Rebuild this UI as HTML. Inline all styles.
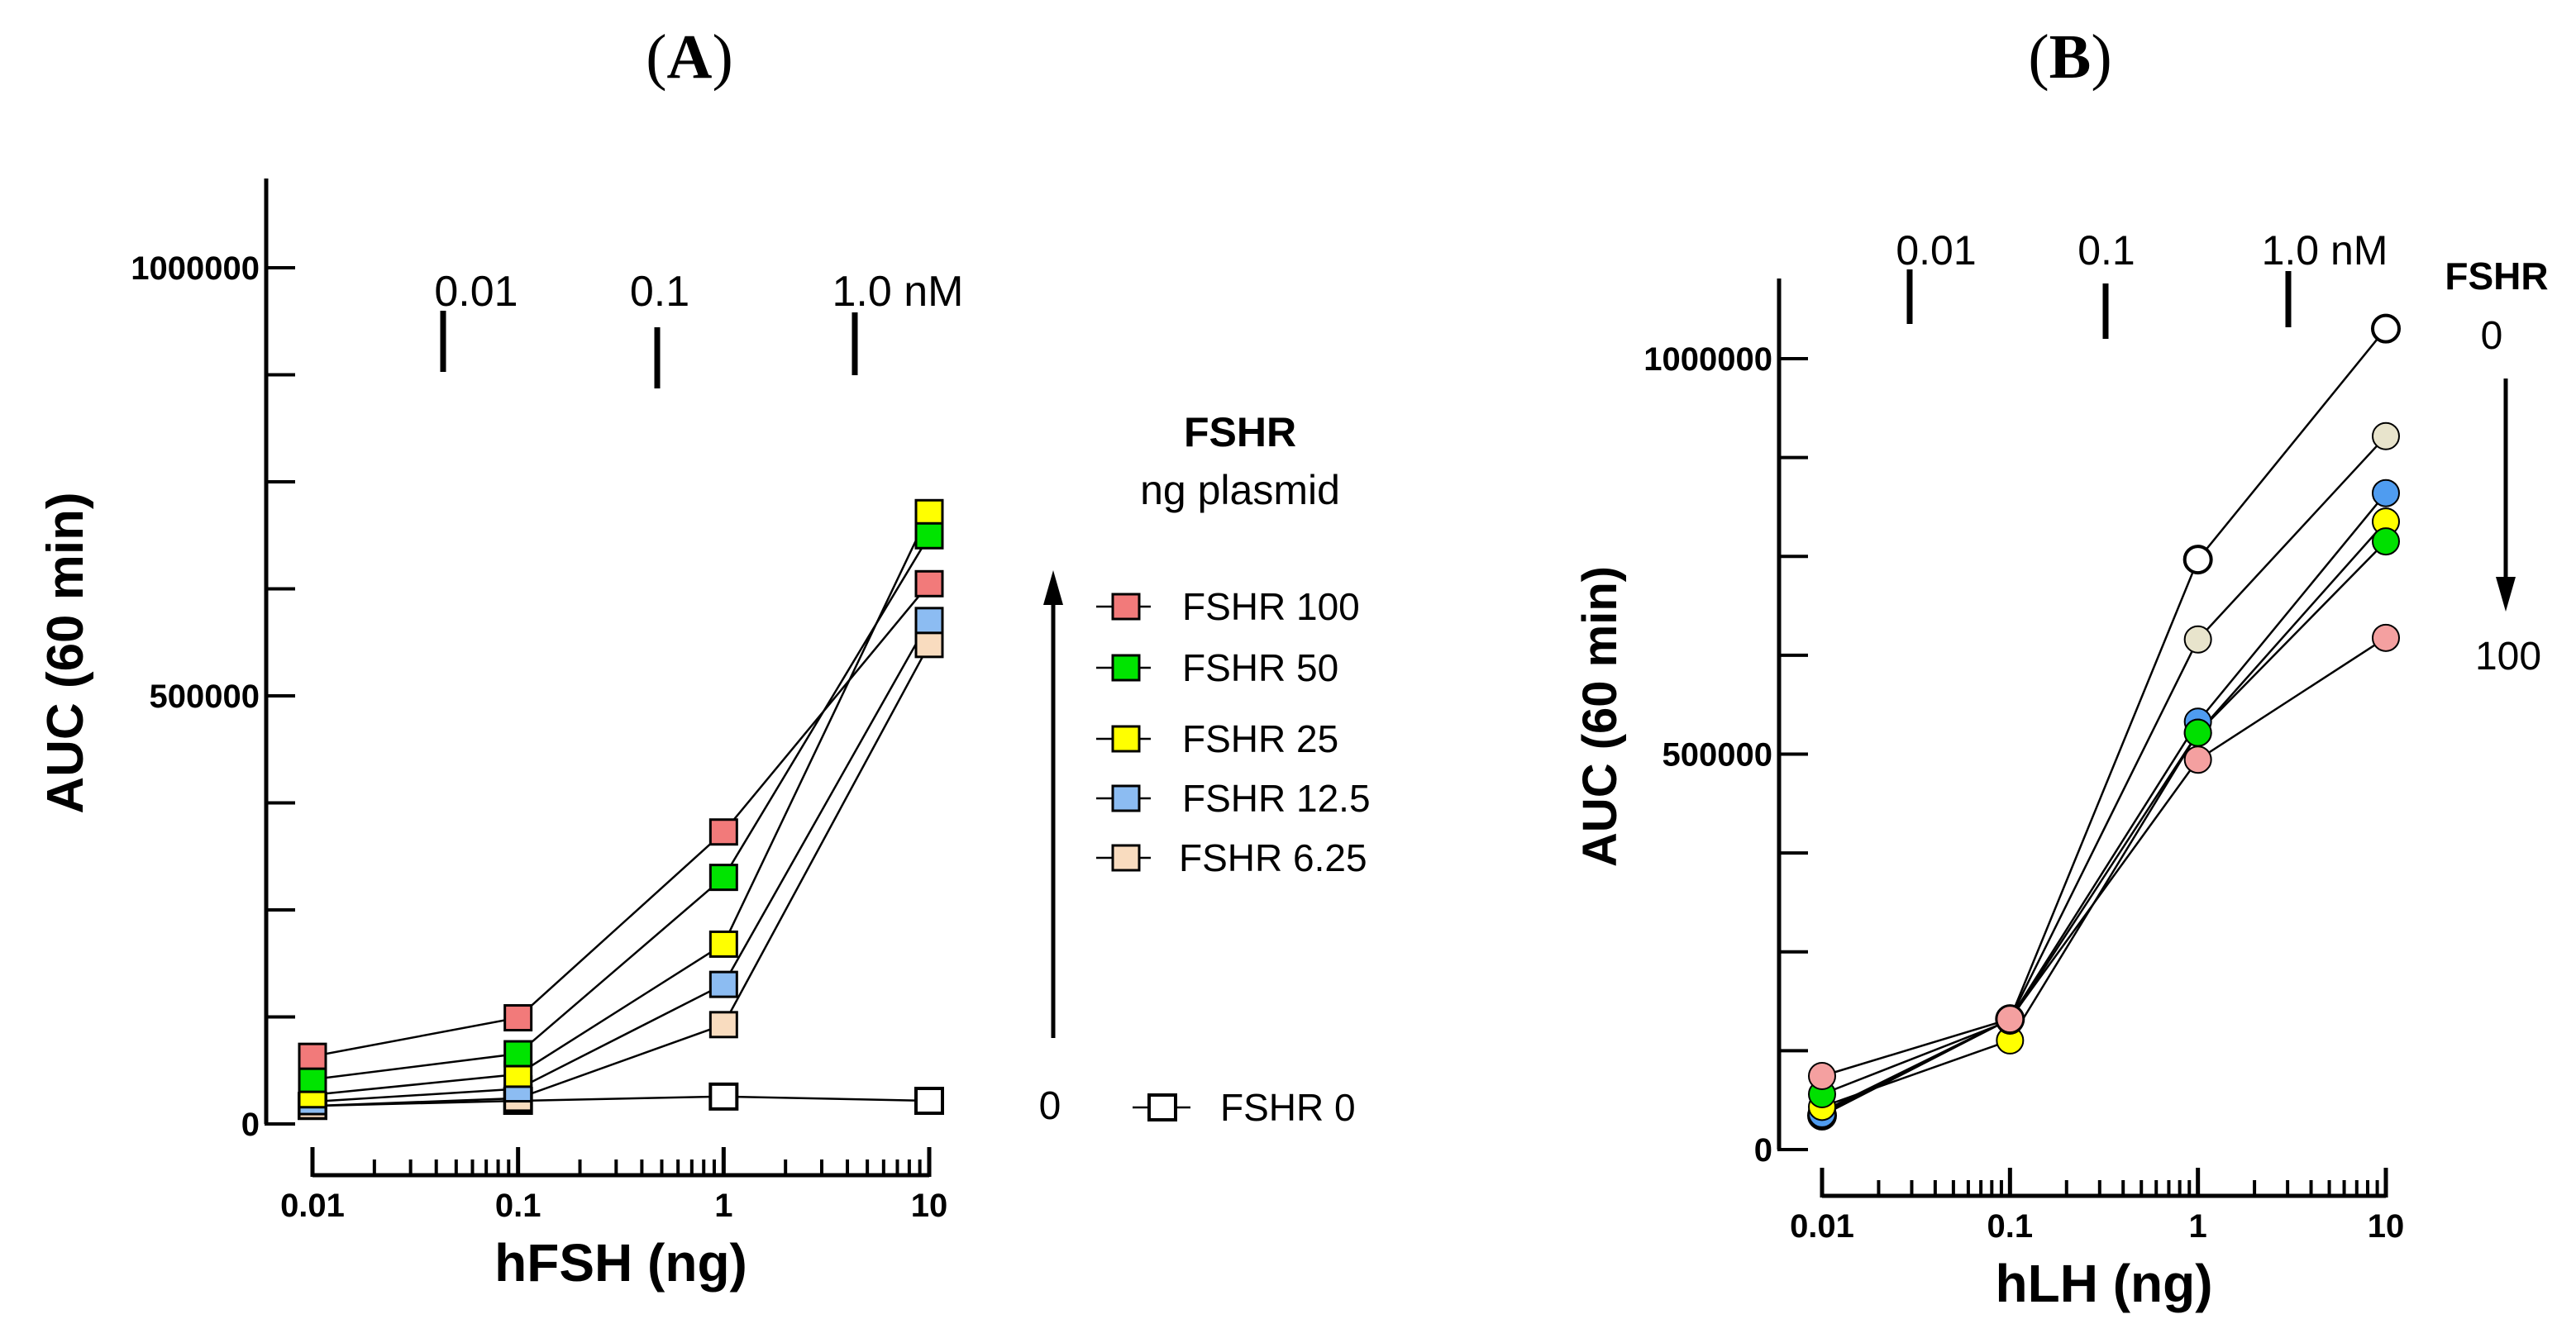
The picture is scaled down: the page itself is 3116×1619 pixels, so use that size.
<!DOCTYPE html>
<html><head><meta charset="utf-8"><style>
html,body{margin:0;padding:0;background:#fff}
svg{display:block}
text{font-family:"Liberation Sans",Arial,sans-serif}
</style></head><body>
<svg id="fig" width="3116" height="1619" viewBox="0 0 3116 1619" xmlns="http://www.w3.org/2000/svg">
<text x="834" y="94" text-anchor="middle" font-size="76" style="font-family:'Liberation Serif',serif">(<tspan font-weight="bold">A</tspan>)</text>
<text x="2504" y="94" text-anchor="middle" font-size="76" style="font-family:'Liberation Serif',serif">(<tspan font-weight="bold">B</tspan>)</text>
<g id="pa"></g>
<g id="pb"></g>
</svg>
<script>
const xCats = [0.01, 0.1, 1, 10];
const xTickLabels = ["0.01", "0.1", "1", "10"];
const yTickLabels = ["0", "500000", "1000000"];
const yTickValues = [0, 500000, 1000000];
const aNames = ["FSHR 0", "FSHR 6.25", "FSHR 12.5", "FSHR 25", "FSHR 50", "FSHR 100"];
const aColors = ["#ffffff", "#f9dcbf", "#8cbcf2", "#ffff00", "#00e400", "#f27a7a"];
const aFSHR0 = [21000, 27000, 32000, 27000];
const aFSHR625 = [21000, 30000, 116000, 560000];
const aFSHR125 = [26000, 41000, 163000, 588000];
const aFSHR25 = [34000, 58000, 210000, 714000];
const aFSHR50 = [52000, 82000, 288000, 687000];
const aFSHR100 = [79000, 124000, 341000, 631000];
const bNames = ["FSHR 0", "FSHR 6.25", "FSHR 12.5", "FSHR 25", "FSHR 50", "FSHR 100"];
const bColors = ["#ffffff", "#e8e4cc", "#4f9cf0", "#ffff00", "#00e000", "#f4a0a0"];
const bFSHR0 = [43000, 165000, 746000, 1038000];
const bFSHR625 = [48000, 165000, 645000, 902000];
const bFSHR125 = [45000, 165000, 541000, 830000];
const bFSHR25 = [54000, 138000, 527000, 794000];
const bFSHR50 = [70000, 163000, 527000, 769000];
const bFSHR100 = [93000, 165000, 493000, 647000];

const NS = "http://www.w3.org/2000/svg";
function mk(parent, tag, attrs, txt){
  const e = document.createElementNS(NS, tag);
  for (const k in attrs) e.setAttribute(k, attrs[k]);
  if (txt !== undefined) e.textContent = txt;
  parent.appendChild(e);
  return e;
}

function panel(g, P, series, colors, names, shape, xTitle){
  const xs = v => P.x0 + (Math.log10(v) + 2) / 3 * (P.x1 - P.x0);
  const ys = v => P.y0 - v / 1e6 * (P.y0 - P.y1);
  let e = mk(g, "line", {x1:P.ax, y1:P.top, x2:P.ax, y2:ys(0), stroke:"#000","stroke-width":5});
  
  
  for (let v = 0; v <= 1000000; v += 125000){
    e = mk(g, "line", {x1:P.ax-2, y1:ys(v), x2:P.ax+35, y2:ys(v), stroke:"#000","stroke-width":4});
    
    
  }
  yTickValues.forEach((v,i)=>{
    e = mk(g, "text", {x:P.ax-8, y:ys(v)+14, "text-anchor":"end", "font-size":40, "font-weight":"bold"}, yTickLabels[i]);
    
    
  });
  e = mk(g, "line", {x1:xs(0.01), y1:P.xa, x2:xs(10), y2:P.xa, stroke:"#000","stroke-width":5});
  
  
  for (let d = -2; d <= 0; d++){
    for (let m = 2; m <= 9; m++){
      const v = m * Math.pow(10, d);
      e = mk(g, "line", {x1:xs(v), y1:P.xa, x2:xs(v), y2:P.xa-19, stroke:"#000","stroke-width":4});
      
      
    }
  }
  xCats.forEach((v,i)=>{
    e = mk(g, "line", {x1:xs(v), y1:P.xa+2, x2:xs(v), y2:P.xa-34, stroke:"#000","stroke-width":5});
    
    
    e = mk(g, "text", {x:xs(v), y:P.xa+50, "text-anchor":"middle", "font-size":40, "font-weight":"bold"}, xTickLabels[i]);
    
    
  });
  e = mk(g, "text", {x:(xs(0.01)+xs(10))/2, y:P.xa+128, "text-anchor":"middle", "font-size":64, "font-weight":"bold"}, xTitle);
  
  
  e = mk(g, "text", {x:0, y:0, "text-anchor":"middle", "font-size":P.yfs, "font-weight":"bold", transform:`translate(${P.ytx},${P.yty}) rotate(-90)`}, "AUC (60 min)");
  
  
  series.forEach((s,si)=>{
    const sg = mk(g, "g", {});
    
    
    const pts = s.map((v,i)=>xs(xCats[i]).toFixed(1)+","+ys(v).toFixed(1)).join(" ");
    e = mk(sg, "polyline", {points:pts, fill:"none", stroke:"#000", "stroke-width":2.5});
    
    
  });
  series.forEach((s,si)=>{
    s.forEach((v,i)=>{
      const cx = xs(xCats[i]), cy = ys(v);
      if (shape === "square"){
        e = mk(g, "rect", {x:cx-16, y:cy-15, width:32, height:30, fill:colors[si], stroke:"#000", "stroke-width": si===0?4:3});
      } else {
        e = mk(g, "circle", {cx:cx, cy:cy, r:16, fill:colors[si], stroke:"#000", "stroke-width": si===0?4:2});
      }
      
      
    });
  });
}

const ga = document.getElementById("pa");
panel(ga, {x0:378, x1:1124, y0:1360, y1:324, ax:322, top:216, xa:1422, ytx:100, yty:790, yfs:62},
  [aFSHR0, aFSHR625, aFSHR125, aFSHR25, aFSHR50, aFSHR100], aColors, aNames, "square", "hFSH (ng)");
const gb = document.getElementById("pb");
panel(gb, {x0:2204, x1:2886, y0:1391, y1:434, ax:2152, top:337, xa:1447, ytx:1955, yty:867, yfs:58},
  [bFSHR0, bFSHR625, bFSHR125, bFSHR25, bFSHR50, bFSHR100], bColors, bNames, "circle", "hLH (ng)");
</script>
<svg style="position:absolute;left:0;top:0" width="3116" height="1619">
  <g font-size="52" text-anchor="middle" font-family="Liberation Sans, sans-serif">
    <text x="576" y="370">0.01</text><text x="798" y="370">0.1</text><text x="1086" y="370">1.0 nM</text>
    <line x1="536" y1="376" x2="536" y2="450" stroke="#000" stroke-width="7"/>
    <line x1="795" y1="396" x2="795" y2="470" stroke="#000" stroke-width="7"/>
    <line x1="1034" y1="378" x2="1034" y2="454" stroke="#000" stroke-width="7"/>
  </g>
  <g font-family="Liberation Sans, sans-serif" font-size="46">
    <text x="1500" y="540" text-anchor="middle" font-weight="bold" font-size="50">FSHR</text>
    <text x="1500" y="610" text-anchor="middle" font-size="50">ng plasmid</text>
    <line x1="1274" y1="1256" x2="1274" y2="730" stroke="#000" stroke-width="5"/>
    <polygon points="1274,690 1262,732 1286,732" fill="#000"/>
    <text x="1270" y="1354" text-anchor="middle" font-size="48">0</text>
    <line x1="1326" y1="734" x2="1392" y2="734" stroke="#000" stroke-width="2.5"/><rect x="1346" y="719" width="32" height="30" fill="#f27a7a" stroke="#000" stroke-width="3"/><text x="1430" y="750">FSHR 100</text>
    <line x1="1326" y1="808" x2="1392" y2="808" stroke="#000" stroke-width="2.5"/><rect x="1346" y="793" width="32" height="30" fill="#00e400" stroke="#000" stroke-width="3"/><text x="1430" y="824">FSHR 50</text>
    <line x1="1326" y1="894" x2="1392" y2="894" stroke="#000" stroke-width="2.5"/><rect x="1346" y="879" width="32" height="30" fill="#ffff00" stroke="#000" stroke-width="3"/><text x="1430" y="910">FSHR 25</text>
    <line x1="1326" y1="966" x2="1392" y2="966" stroke="#000" stroke-width="2.5"/><rect x="1346" y="951" width="32" height="30" fill="#8cbcf2" stroke="#000" stroke-width="3"/><text x="1430" y="982">FSHR 12.5</text>
    <line x1="1326" y1="1038" x2="1392" y2="1038" stroke="#000" stroke-width="2.5"/><rect x="1346" y="1023" width="32" height="30" fill="#f9dcbf" stroke="#000" stroke-width="3"/><text x="1426" y="1054">FSHR 6.25</text>
    <line x1="1370" y1="1340" x2="1440" y2="1340" stroke="#000" stroke-width="2.5"/><rect x="1390" y="1325" width="32" height="30" fill="#fff" stroke="#000" stroke-width="4"/><text x="1476" y="1356">FSHR 0</text>
  </g>
  <g font-size="50" text-anchor="middle" font-family="Liberation Sans, sans-serif">
    <text x="2342" y="320">0.01</text><text x="2548" y="320">0.1</text><text x="2812" y="320">1.0 nM</text>
    <line x1="2310" y1="326" x2="2310" y2="392" stroke="#000" stroke-width="7"/>
    <line x1="2547" y1="343" x2="2547" y2="410" stroke="#000" stroke-width="7"/>
    <line x1="2768" y1="328" x2="2768" y2="396" stroke="#000" stroke-width="7"/>
  </g>
  <g font-family="Liberation Sans, sans-serif" text-anchor="middle">
    <text x="3020" y="350" font-size="46" font-weight="bold">FSHR</text>
    <text x="3014" y="422" font-size="48">0</text>
    <line x1="3031" y1="458" x2="3031" y2="700" stroke="#000" stroke-width="5"/>
    <polygon points="3031,740 3019,698 3043,698" fill="#000"/>
    <text x="3034" y="810" font-size="48">100</text>
  </g>
</svg>
</body></html>
